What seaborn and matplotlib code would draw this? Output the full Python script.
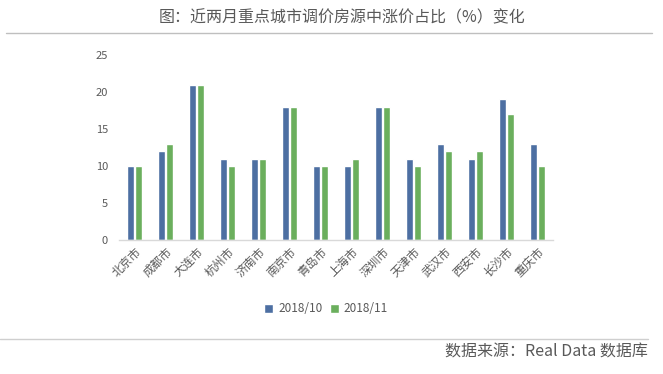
import pandas as pd
import matplotlib
matplotlib.use('Agg')
import matplotlib.pyplot as plt
from matplotlib.lines import Line2D
import seaborn as sns

cities = ['北京市', '成都市', '大连市', '杭州市', '济南市', '南京市', '青岛市',
          '上海市', '深圳市', '天津市', '武汉市', '西安市', '长沙市', '重庆市']
oct_values = [10, 12, 21, 11, 11, 18, 10, 10, 18, 11, 13, 11, 19, 13]
nov_values = [10, 13, 21, 10, 11, 18, 10, 11, 18, 10, 12, 12, 17, 10]
series_names = ['2018/10', '2018/11']
y_ticks = [0, 5, 10, 15, 20, 25]

title_text = '图：近两月重点城市调价房源中涨价占比（%）变化'
source_text = '数据来源：Real Data 数据库'

blue = '#4D6FA2'
green = '#6BAF5D'
text_gray = '#595959'

df = pd.DataFrame({
    'city': cities * 2,
    'value': oct_values + nov_values,
    'month': [series_names[0]] * len(cities) + [series_names[1]] * len(cities),
})

sns.set_theme(style='white')
plt.rcParams['font.family'] = ['Noto Sans CJK SC', 'DejaVu Sans']

fig = plt.figure(figsize=(6.63, 3.74), dpi=100)
ax = fig.add_axes([119 / 663, 1 - 240 / 374, (553 - 119) / 663, (240 - 55) / 374])

sns.barplot(data=df, x='city', y='value', hue='month', order=cities,
            hue_order=series_names, palette=[blue, green], width=0.5,
            gap=0.12, saturation=1, ax=ax, legend=True)

ax.set_ylim(0, 25)
ax.set_yticks(y_ticks)
ax.set_xlim(-0.5, len(cities) - 0.5)
ax.set_xlabel('')
ax.set_ylabel('')
for s in ['top', 'right', 'left']:
    ax.spines[s].set_visible(False)
ax.spines['bottom'].set_color('#d9d9d9')
ax.spines['bottom'].set_linewidth(1)
ax.tick_params(axis='y', labelsize=8, labelcolor=text_gray, length=0, pad=8)
ax.tick_params(axis='x', labelsize=8.5, labelcolor=text_gray, length=0, pad=4)
for lbl in ax.get_xticklabels():
    lbl.set_rotation(45)
    lbl.set_ha('right')
    lbl.set_rotation_mode('anchor')

handles, labels = ax.get_legend_handles_labels()
ax.get_legend().remove()
fig.legend(handles, labels, loc='center', bbox_to_anchor=(326 / 663, 1 - 309 / 374),
           ncol=2, frameon=False, fontsize=8.5, labelcolor=text_gray,
           handlelength=0.8, handleheight=0.8, handletextpad=0.4, columnspacing=0.6)

fig.text(342 / 663, 1 - 18 / 374, title_text, ha='center', va='center',
         fontsize=11.5, color=text_gray)
fig.text(648 / 663, 1 - 352 / 374, source_text, ha='right', va='center',
         fontsize=11.5, color=text_gray)

fig.add_artist(Line2D([6 / 663, 652 / 663], [1 - 33 / 374] * 2,
                      color='#bfbfbf', linewidth=1, transform=fig.transFigure))
fig.add_artist(Line2D([0, 648 / 663], [1 - 339 / 374] * 2,
                      color='#cfcfcf', linewidth=1, transform=fig.transFigure))

fig.savefig('out.png', dpi=100)
